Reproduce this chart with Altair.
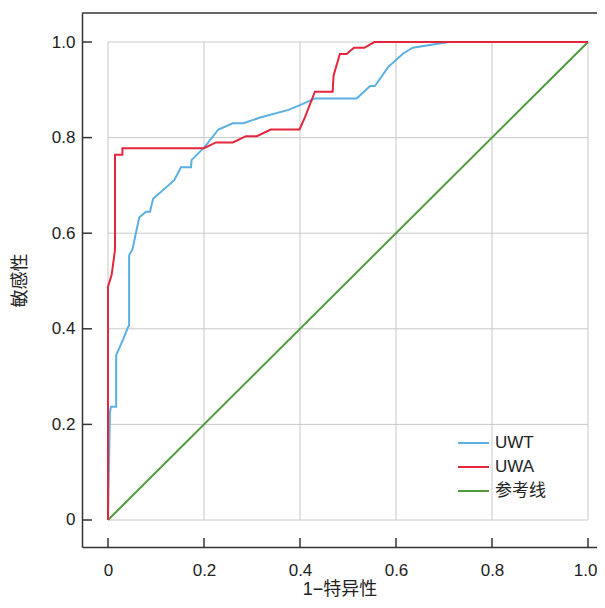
import altair as alt
import pandas as pd

TICKS = [0, 0.2, 0.4, 0.6, 0.8, 1.0]
SERIES = ["UWT", "UWA", "参考线"]
COLORS = ["#5aafe3", "#e3263c", "#4f9a3f"]

UWT_X = [0, 0.004, 0.006, 0.017, 0.017, 0.032, 0.042, 0.044, 0.044, 0.051,
         0.065, 0.079, 0.0875, 0.094, 0.138, 0.152, 0.173, 0.174, 0.202, 0.23,
         0.26, 0.282, 0.317, 0.376, 0.4, 0.431, 0.518, 0.546, 0.556, 0.584,
         0.615, 0.635, 0.71, 1.0]
UWT_Y = [0, 0.224, 0.237, 0.237, 0.345, 0.379, 0.404, 0.406, 0.554, 0.566,
         0.633, 0.645, 0.645, 0.672, 0.711, 0.738, 0.738, 0.753, 0.781, 0.817,
         0.83, 0.83, 0.842, 0.858, 0.868, 0.882, 0.882, 0.908, 0.908, 0.948,
         0.976, 0.988, 1.0, 1.0]

UWA_X = [0, 0, 0.0076, 0.0146, 0.0146, 0.03, 0.03, 0.2, 0.225, 0.26, 0.2875,
         0.31, 0.339, 0.399, 0.41, 0.431, 0.468, 0.47, 0.483, 0.497, 0.5125,
         0.534, 0.555, 1.0]
UWA_Y = [0, 0.488, 0.513, 0.565, 0.764, 0.764, 0.778, 0.778, 0.79, 0.79, 0.803,
         0.803, 0.817, 0.817, 0.842, 0.896, 0.896, 0.93, 0.975, 0.975, 0.988,
         0.988, 1.0, 1.0]

REF_X = [0, 1.0]
REF_Y = [0, 1.0]

W, H = 515, 534
FONT = "Liberation Sans, Noto Sans CJK SC, sans-serif"
INK = "#333333"


def series_df(name, xs, ys):
    return pd.DataFrame({"x": xs, "y": ys, "s": name, "i": list(range(len(xs)))})


ticks_df = pd.DataFrame({"t": TICKS})

x_scale = alt.Scale(domain=[-0.05417, 1.01875], nice=False, zero=False)
y_scale = alt.Scale(domain=[-0.0565, 1.0607], nice=False, zero=False)
label_expr = "datum.value == 0 ? '0' : format(datum.value, '.1f')"
x_axis = alt.Axis(
    title="1−特异性", values=TICKS, labelExpr=label_expr, grid=False,
    ticks=False, tickSize=0, labelPadding=15, titlePadding=2,
    labelAlign={"condition": {"test": "datum.value == 1", "value": "right"}, "value": "center"},
    labelOffset={"condition": {"test": "datum.value == 1", "value": 9}, "value": 0},
)
y_axis = alt.Axis(title="敏感性", values=TICKS, labelExpr=label_expr, grid=False,
                  ticks=False, tickSize=0, labelPadding=7, titlePadding=22)
color_scale = alt.Scale(domain=SERIES, range=COLORS)
legend = alt.Legend(title=None, orient="none", legendX=375, legendY=418,
                    symbolType="stroke", symbolSize=961, symbolStrokeWidth=2,
                    labelFontSize=17, labelFont=FONT, labelColor="#222222",
                    labelOffset=5, rowPadding=0, clipHeight=24, padding=0)

grid_v = alt.Chart(ticks_df).mark_rule(color="#c8c8c8", strokeWidth=1).encode(
    x=alt.X("t:Q", scale=x_scale, axis=x_axis),
    y=alt.datum(0), y2=alt.datum(1),
)
grid_h = alt.Chart(ticks_df).mark_rule(color="#c8c8c8", strokeWidth=1).encode(
    y=alt.Y("t:Q", scale=y_scale, axis=y_axis),
    x=alt.datum(0), x2=alt.datum(1),
)


def line_layer(df):
    return alt.Chart(df).mark_line(strokeWidth=2).encode(
        x=alt.X("x:Q", scale=x_scale, axis=x_axis),
        y=alt.Y("y:Q", scale=y_scale, axis=y_axis),
        color=alt.Color("s:N", scale=color_scale, legend=legend),
        order=alt.Order("i:Q"),
    )


ref_line = line_layer(series_df("参考线", REF_X, REF_Y))
uwt_line = line_layer(series_df("UWT", UWT_X, UWT_Y))
uwa_line = line_layer(series_df("UWA", UWA_X, UWA_Y))

ticks_left = alt.Chart(ticks_df).mark_rule(color=INK, strokeWidth=1.5).encode(
    y=alt.Y("t:Q", scale=y_scale, axis=y_axis),
    x=alt.value(0), x2=alt.value(10),
)
ticks_bottom = alt.Chart(ticks_df).mark_rule(color=INK, strokeWidth=1.5).encode(
    x=alt.X("t:Q", scale=x_scale, axis=x_axis),
    y=alt.value(H), y2=alt.value(H - 9),
)
top_border = alt.Chart(ticks_df.head(1)).mark_rule(color=INK, strokeWidth=1.5).encode(
    x=alt.value(0), x2=alt.value(W), y=alt.value(0),
)

chart = alt.layer(
    grid_v, grid_h, ref_line, uwt_line, uwa_line, ticks_left, ticks_bottom, top_border
).properties(
    width=W, height=H,
    padding={"left": 74, "top": 5, "right": 0, "bottom": 52},
    autosize=alt.AutoSizeParams(type="none"),
).configure_view(
    stroke=None
).configure_axis(
    labelFont=FONT, titleFont=FONT, labelFontSize=17, titleFontSize=18,
    labelColor="#222222", titleColor="#222222", titleFontWeight="normal",
    domainColor=INK, domainWidth=1.5,
)

chart.save("out.html", embed_options={"renderer": "svg", "actions": False})
